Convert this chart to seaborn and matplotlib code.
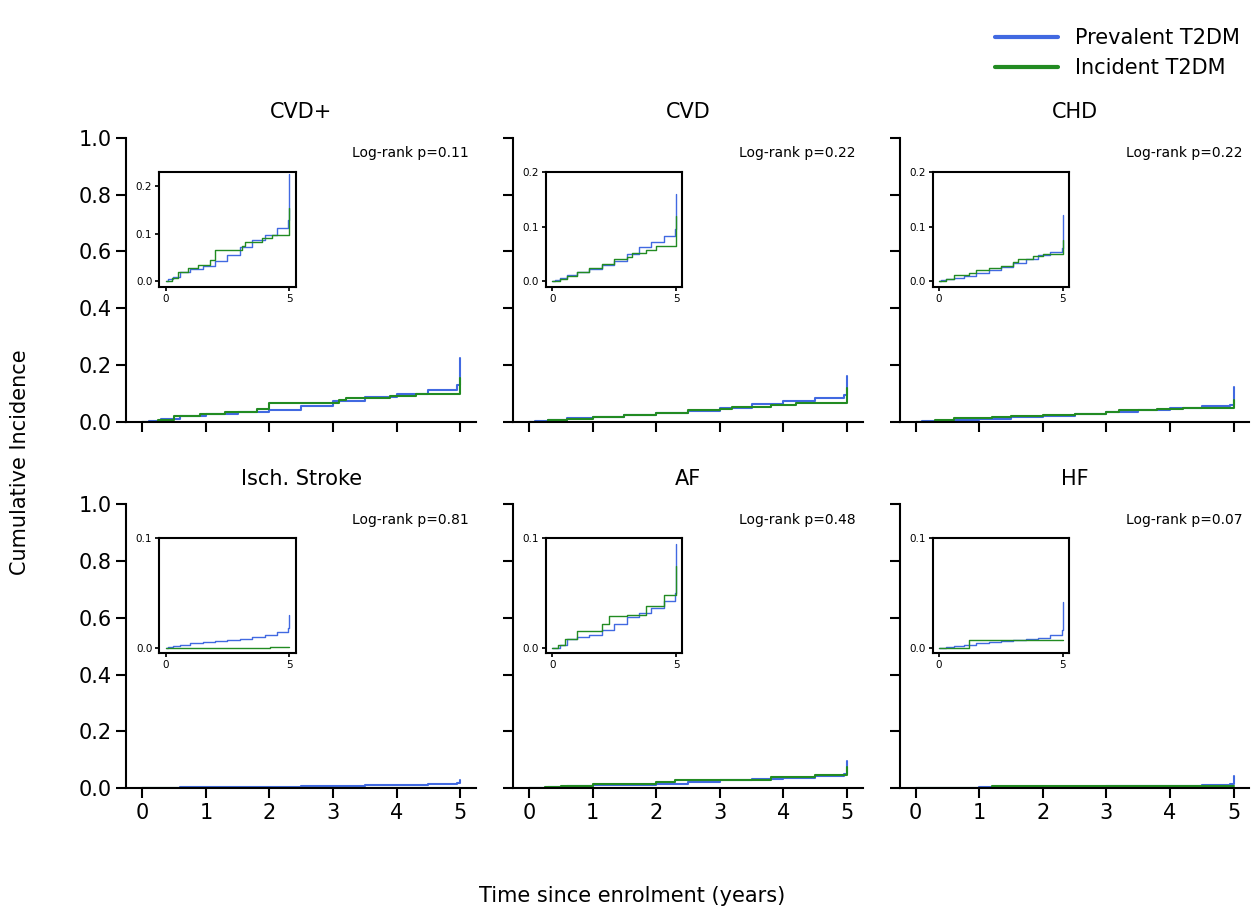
import numpy as np
import matplotlib.pyplot as plt
import seaborn as sns

titles = ["CVD+", "CVD", "CHD", "Isch. Stroke", "AF", "HF"]
pvalues = ["0.11", "0.22", "0.22", "0.81", "0.48", "0.07"]
inset_top = [0.23, 0.2, 0.2, 0.1, 0.1, 0.1]
inset_ticks = [[0.0, 0.1, 0.2], [0.0, 0.1, 0.2], [0.0, 0.1, 0.2], [0.0, 0.1], [0.0, 0.1], [0.0, 0.1]]

# prevalent T2DM (blue), step curves
prev_t = [
    [0, 0.1, 0.3, 0.6, 1.0, 1.5, 2.0, 2.5, 3.0, 3.5, 4.0, 4.5, 4.95, 5.0],
    [0, 0.1, 0.3, 0.6, 1.0, 1.5, 2.0, 2.5, 3.0, 3.5, 4.0, 4.5, 4.95, 5.0],
    [0, 0.1, 0.3, 0.6, 1.0, 1.5, 2.0, 2.5, 3.0, 3.5, 4.0, 4.5, 4.95, 5.0],
    [0, 0.1, 0.3, 0.6, 1.0, 1.5, 2.0, 2.5, 3.0, 3.5, 4.0, 4.5, 4.95, 5.0],
    [0, 0.1, 0.3, 0.6, 1.0, 1.5, 2.0, 2.5, 3.0, 3.5, 4.0, 4.5, 4.95, 5.0],
    [0, 0.1, 0.3, 0.6, 1.0, 1.5, 2.0, 2.5, 3.0, 3.5, 4.0, 4.5, 4.95, 5.0],
]
prev_v = [
    [0, 0.004, 0.010, 0.020, 0.026, 0.033, 0.042, 0.056, 0.072, 0.086, 0.098, 0.112, 0.128, 0.225],
    [0, 0.003, 0.007, 0.012, 0.017, 0.023, 0.030, 0.038, 0.050, 0.062, 0.072, 0.082, 0.095, 0.160],
    [0, 0.002, 0.004, 0.007, 0.010, 0.016, 0.021, 0.026, 0.033, 0.040, 0.048, 0.054, 0.060, 0.122],
    [0, 0.001, 0.002, 0.003, 0.004, 0.005, 0.006, 0.007, 0.008, 0.010, 0.012, 0.014, 0.018, 0.030],
    [0, 0.000, 0.003, 0.008, 0.010, 0.012, 0.016, 0.022, 0.028, 0.032, 0.036, 0.043, 0.050, 0.095],
    [0, 0.000, 0.001, 0.002, 0.003, 0.004, 0.005, 0.006, 0.007, 0.008, 0.009, 0.012, 0.016, 0.042],
]

# incident T2DM (green)
inc_t = [
    [0, 0.25, 0.5, 0.9, 1.3, 1.8, 2.0, 3.1, 3.2, 3.9, 4.3, 5.0],
    [0, 0.3, 0.6, 1.0, 1.5, 2.0, 2.5, 3.0, 3.2, 3.8, 4.2, 5.0],
    [0, 0.3, 0.6, 1.2, 1.5, 2.0, 2.5, 3.0, 3.2, 3.8, 4.2, 5.0],
    [0, 0.3, 0.6, 1.2, 1.5, 2.0, 2.5, 3.0, 3.2, 3.8, 4.2, 5.0],
    [0, 0.25, 0.5, 1.0, 1.8, 2.0, 2.3, 3.0, 3.5, 3.8, 4.5, 5.0],
    [0, 0.3, 0.6, 1.2, 1.5, 2.0, 2.5, 3.0, 3.2, 3.8, 4.2, 5.0],
]
inc_v = [
    [0, 0.008, 0.020, 0.028, 0.035, 0.045, 0.065, 0.075, 0.082, 0.090, 0.098, 0.155],
    [0, 0.005, 0.010, 0.017, 0.025, 0.032, 0.040, 0.045, 0.052, 0.058, 0.065, 0.120],
    [0, 0.005, 0.012, 0.016, 0.020, 0.024, 0.028, 0.035, 0.040, 0.046, 0.050, 0.075],
    [0, 0.000, 0.000, 0.000, 0.000, 0.000, 0.000, 0.000, 0.000, 0.000, 0.001, 0.001],
    [0, 0.003, 0.008, 0.015, 0.015, 0.022, 0.029, 0.030, 0.030, 0.038, 0.048, 0.075],
    [0, 0.000, 0.000, 0.007, 0.007, 0.007, 0.007, 0.007, 0.007, 0.007, 0.007, 0.007],
]

blue = "#4169e1"
green = "#228b22"

sns.set_theme(style="ticks", context="notebook")
plt.rcParams['font.family'] = ['DejaVu Sans']
plt.rcParams.update({"text.color": "black", "axes.labelcolor": "black",
                     "xtick.color": "black", "ytick.color": "black",
                     "axes.edgecolor": "black"})

fig, axes = plt.subplots(2, 3, figsize=(12.52, 9.06), dpi=100, sharex=True, sharey=True)
fig.subplots_adjust(left=0.101, right=0.998, top=0.848, bottom=0.130, wspace=0.106, hspace=0.29)

for i, ax in enumerate(axes.flat):
    ax.step(prev_t[i], prev_v[i], where="post", color=blue, lw=1.5)
    ax.step(inc_t[i], inc_v[i], where="post", color=green, lw=1.5)
    ax.set_xlim(-0.25, 5.25)
    ax.set_ylim(0, 1.0)
    ax.set_xticks([0, 1, 2, 3, 4, 5])
    ax.set_yticks([0, 0.2, 0.4, 0.6, 0.8, 1.0])
    ax.tick_params(labelsize=15, length=7, width=1.5)
    for s in ["left", "bottom"]:
        ax.spines[s].set_linewidth(1.5)
    sns.despine(ax=ax)
    ax.set_title(titles[i], fontsize=15, pad=14)
    ax.text(0.98, 0.97, "Log-rank p=" + pvalues[i], transform=ax.transAxes,
            ha="right", va="top", fontsize=10)

    ins = ax.inset_axes([0.094, 0.475, 0.39, 0.405])
    ins.step(prev_t[i], prev_v[i], where="post", color=blue, lw=1)
    ins.step(inc_t[i], inc_v[i], where="post", color=green, lw=1)
    ins.set_xlim(-0.25, 5.25)
    ins.set_ylim(-0.005 * inset_top[i] / 0.1, inset_top[i])
    ins.set_xticks([0, 5])
    ins.set_yticks(inset_ticks[i])
    ins.tick_params(labelsize=7.5, length=3, pad=2)
    for s in ins.spines.values():
        s.set_linewidth(1.5)

fig.text(0.505, 0.0, "Time since enrolment (years)", ha="center", va="bottom", fontsize=15)
fig.text(0.008, 0.49, "Cumulative Incidence", va="center", rotation=90, fontsize=15)

handles = [plt.Line2D([], [], color=blue, lw=3), plt.Line2D([], [], color=green, lw=3)]
fig.legend(handles, ["Prevalent T2DM", "Incident T2DM"], loc="upper right",
           bbox_to_anchor=(1.005, 0.99), frameon=False, fontsize=15, handlelength=3)

fig.savefig("out.png", dpi=100)
